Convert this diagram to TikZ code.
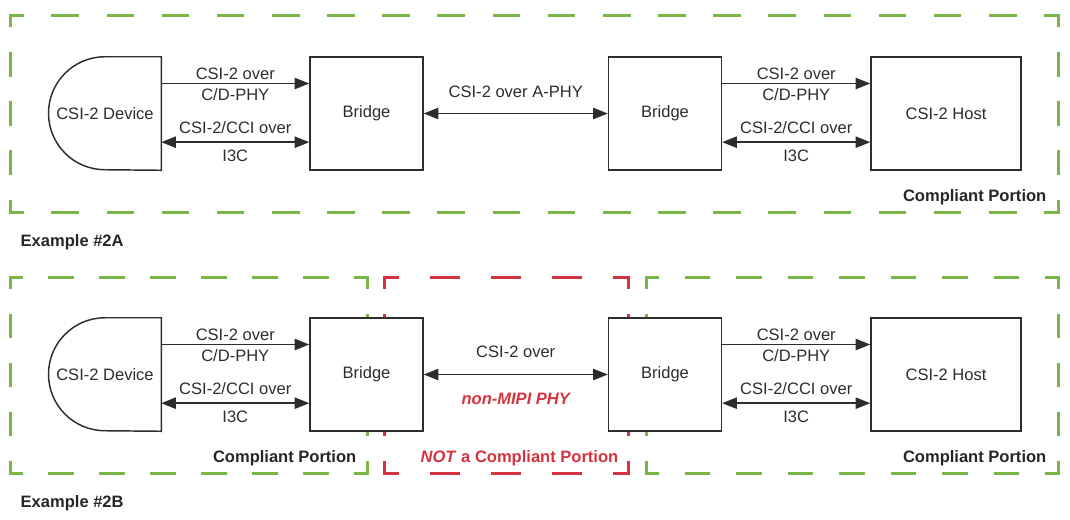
\documentclass[tikz,border=0pt]{standalone}
\usepackage{fontspec}
\setmainfont{Liberation Sans}
\usetikzlibrary{arrows.meta}
\definecolor{lgreen}{RGB}{122,182,72}
\definecolor{lred}{RGB}{212,51,63}
\definecolor{ink}{RGB}{45,45,45}
% one dashed side, half dashes at both corners
\newcommand\portionside[3]{%
  \pgfmathsetmacro\psn{max(1,round(#2/41))}%
  \pgfmathsetmacro\psp{#2/\psn}%
  \pgfmathsetmacro\psd{0.5*\psp-2.25}%
  \pgfmathsetmacro\psg{\psp-\psd}%
  \pgfmathsetmacro\psf{0.5*\psd}%
  \draw[#1,line width=2.25pt,line cap=rect,dash pattern=on \psd pt off \psg pt,dash phase=\psf pt] #3;}
\newcommand\portionbox[5]{%
  \pgfmathsetmacro\pbw{abs(#4-#2)*0.75}%
  \pgfmathsetmacro\pbh{abs(#5-#3)*0.75}%
  \portionside{#1}{\pbw}{(#2,#3) -- (#4,#3)}%
  \portionside{#1}{\pbw}{(#2,#5) -- (#4,#5)}%
  \portionside{#1}{\pbh}{(#2,#3) -- (#2,#5)}%
  \portionside{#1}{\pbh}{(#4,#3) -- (#4,#5)}}
\begin{document}
\begin{tikzpicture}[x=0.75pt,y=0.75pt, every node/.style={font=\fontsize{12.4}{14}\selectfont,text=ink},
  >={Triangle[length=11pt,width=8.5pt]},
  blk/.style={draw=ink,line width=1.1pt,fill=white,minimum width=84.75pt,minimum height=84.75pt,align=center},
  link/.style={draw=ink,line width=1.1pt},
  lbl/.style={inner sep=0pt},
  tag/.style={font=\fontsize{12.4}{14}\selectfont\bfseries,text=black!85}]
\useasboundingbox (0,0) rectangle (1070,-519);
% portions
\portionbox{lgreen}{10}{-15}{1058}{-212}
\portionbox{lgreen}{10}{-277}{367}{-473}
\portionbox{lred}{384}{-277}{628}{-473}
\portionbox{lgreen}{646}{-277}{1058}{-473}
% example 2A
\node[minimum width=84pt,minimum height=84.75pt] (devA) at (105,-113.5) {CSI-2 Device};
\draw[link] (devA.north east) -- (devA.north) arc[start angle=90,end angle=270,radius=42.375pt] -- (devA.south east) -- cycle;
\node[blk] (brAa) at (366.5,-113.5) {Bridge};
\node[blk] (brAb) at (665,-113.5) {Bridge};
\node[blk,minimum width=112.5pt] (hostA) at (946,-113.5) {CSI-2 Host};
\draw[link,->] ([yshift=22.5pt]devA.east) -- node[lbl,above=2.25pt] {CSI-2 over} node[lbl,below=3pt] {C/D-PHY} ([yshift=22.5pt]brAa.west);
\draw[link,<->] ([yshift=-21.5pt]devA.east) -- node[lbl,above=5.5pt] {CSI-2/CCI over} node[lbl,below=5.5pt] {I3C} ([yshift=-21.5pt]brAa.west);
\draw[link,<->] (brAa) -- node[lbl,above=11pt] {CSI-2 over A-PHY} (brAb);
\draw[link,->] ([yshift=22.5pt]brAb.east) -- node[lbl,above=2.25pt] {CSI-2 over} node[lbl,below=3pt] {C/D-PHY} ([yshift=22.5pt]hostA.west);
\draw[link,<->] ([yshift=-21.5pt]brAb.east) -- node[lbl,above=5.5pt] {CSI-2/CCI over} node[lbl,below=5.5pt] {I3C} ([yshift=-21.5pt]hostA.west);
\node[tag,anchor=base east] (cpA) at (1051,-201) {Compliant Portion};
\node[tag,anchor=base west] (exA) at (16,-246) {Example \#2A};
% example 2B
\node[minimum width=84pt,minimum height=84.75pt] (devB) at (105,-374.5) {CSI-2 Device};
\draw[link] (devB.north east) -- (devB.north) arc[start angle=90,end angle=270,radius=42.375pt] -- (devB.south east) -- cycle;
\node[blk] (brBa) at (366.5,-374.5) {Bridge};
\node[blk] (brBb) at (665,-374.5) {Bridge};
\node[blk,minimum width=112.5pt] (hostB) at (946,-374.5) {CSI-2 Host};
\draw[link,->] ([yshift=22.5pt]devB.east) -- node[lbl,above=2.25pt] {CSI-2 over} node[lbl,below=3pt] {C/D-PHY} ([yshift=22.5pt]brBa.west);
\draw[link,<->] ([yshift=-21.5pt]devB.east) -- node[lbl,above=5.5pt] {CSI-2/CCI over} node[lbl,below=5.5pt] {I3C} ([yshift=-21.5pt]brBa.west);
\draw[link,<->] (brBa) -- node[lbl,above=12pt] {CSI-2 over} node[lbl,below=13.5pt,tag,text=lred] {\itshape non-MIPI PHY} (brBb);
\draw[link,->] ([yshift=22.5pt]brBb.east) -- node[lbl,above=2.25pt] {CSI-2 over} node[lbl,below=3pt] {C/D-PHY} ([yshift=22.5pt]hostB.west);
\draw[link,<->] ([yshift=-21.5pt]brBb.east) -- node[lbl,above=5.5pt] {CSI-2/CCI over} node[lbl,below=5.5pt] {I3C} ([yshift=-21.5pt]hostB.west);
\node[tag,anchor=base east] (cpB1) at (361,-462) {Compliant Portion};
\node[tag,anchor=base east,text=lred] (ncp) at (623,-462) {\textit{NOT} a Compliant Portion};
\node[tag,anchor=base east] (cpB2) at (1051,-462) {Compliant Portion};
\node[tag,anchor=base west] (exB) at (16,-507) {Example \#2B};
\end{tikzpicture}
\end{document}
